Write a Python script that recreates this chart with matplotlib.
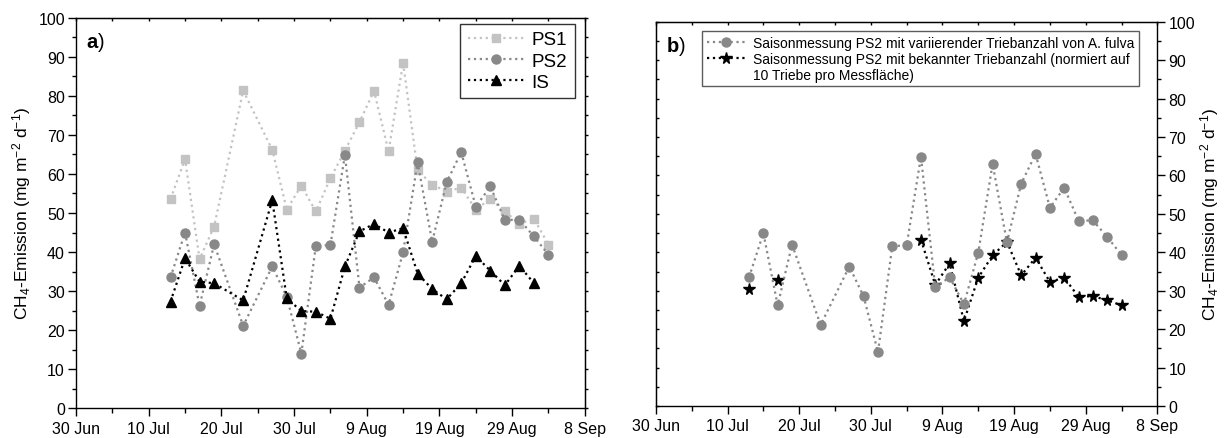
import datetime as dt
import numpy as np
import matplotlib
matplotlib.use("Agg")
import matplotlib.pyplot as plt
import matplotlib.dates as mdates
from matplotlib.lines import Line2D
from matplotlib.ticker import FixedLocator, FuncFormatter, NullFormatter

plt.rcParams['font.family'] = ['Liberation Sans', 'DejaVu Sans']
plt.rcParams['mathtext.fontset'] = 'custom'
plt.rcParams['mathtext.rm'] = 'Liberation Sans'
plt.rcParams['mathtext.it'] = 'Liberation Sans:italic'
plt.rcParams['mathtext.bf'] = 'Liberation Sans:bold'

YEAR = 2010

# measurement days (PS1 / PS2)
dates = ["07-13", "07-15", "07-17", "07-19", "07-23", "07-27", "07-29", "07-31",
         "08-02", "08-04", "08-06", "08-08", "08-10", "08-12", "08-14", "08-16",
         "08-18", "08-20", "08-22", "08-24", "08-26", "08-28", "08-30", "09-01", "09-03"]

ps1 = [53.6, 63.8, 38.2, 46.5, 81.4, 66.2, 50.9, 57.0,
       50.4, 58.9, 66.0, 73.3, 81.3, 65.8, 88.5, 60.9,
       57.3, 55.5, 56.5, 50.9, 53.6, 50.4, 47.3, 48.5, 41.9]

ps2 = [33.5, 45.0, 26.2, 42.0, 21.1, 36.3, 28.5, 14.0,
       41.6, 41.8, 64.9, 30.9, 33.5, 26.5, 39.9, 63.0,
       42.6, 57.9, 65.6, 51.6, 56.8, 48.2, 48.3, 44.0, 39.3]

# IS has no value on the last day
is_vals = [27.3, 38.4, 32.4, 32.0, 27.6, 53.3, 28.1, 24.9,
           24.7, 22.9, 36.3, 45.3, 47.2, 45.0, 46.1, 34.5,
           30.5, 27.9, 32.0, 39.0, 35.2, 31.5, 36.5, 32.0]

# PS2 normalised to 10 shoots (only days with known shoot count)
ps2_norm = [30.4, np.nan, 32.7, np.nan, np.nan, np.nan, np.nan, np.nan,
            np.nan, np.nan, 43.3, 31.5, 37.1, 22.1, 33.4, 39.2,
            42.7, 34.0, 38.6, 32.3, 33.4, 28.4, 28.6, 27.5, 26.2]

x = [dt.datetime.strptime(f"{YEAR}-{d}", "%Y-%m-%d") for d in dates]

start = dt.datetime(YEAR, 6, 30)
end = dt.datetime(YEAR, 9, 8)
major = [mdates.date2num(start + dt.timedelta(days=10 * i)) for i in range(8)]
minor = [m + 5 for m in major[:-1]]
ymajor = np.arange(0, 101, 10)
yminor = np.arange(5, 100, 10)

YLABEL = r'CH$_4$-Emission (mg m$^{-2}$ d$^{-1}$)'
LIGHT = '#c3c3c3'
MID = '#888888'
TICKSIZE = 11.5


def date_fmt(v, pos):
    d = mdates.num2date(v)
    return f"{d.day} {d.strftime('%b')}"


def style_axes(ax, label_side):
    ax.set_xlim(start, end)
    ax.set_ylim(0, 100)
    ax.xaxis.set_major_locator(FixedLocator(major))
    ax.xaxis.set_minor_locator(FixedLocator(minor))
    ax.xaxis.set_major_formatter(FuncFormatter(date_fmt))
    ax.yaxis.set_major_locator(FixedLocator(ymajor))
    ax.yaxis.set_minor_locator(FixedLocator(yminor))
    for s in ax.spines.values():
        s.set_linewidth(1.0)
    ax.tick_params(axis='x', which='major', direction='out', length=6, width=1,
                   labelsize=TICKSIZE, pad=3)
    ax.tick_params(axis='x', which='minor', direction='out', length=3.5, width=1)
    ax.tick_params(axis='y', which='major', direction='out', length=6, width=1,
                   labelsize=TICKSIZE, pad=2)
    ax.tick_params(axis='y', which='minor', direction='out', length=3, width=1)

    # short mirror ticks on the opposite spines
    top = ax.secondary_xaxis('top')
    top.xaxis.set_major_locator(FixedLocator(major))
    top.xaxis.set_minor_locator(FixedLocator(minor))
    top.xaxis.set_major_formatter(NullFormatter())
    top.tick_params(which='both', direction='in', length=2.5, width=1)

    other = 'right' if label_side == 'left' else 'left'
    if label_side == 'right':
        ax.yaxis.tick_right()
        ax.yaxis.set_label_position('right')
    mirror = ax.secondary_yaxis(other)
    mirror.yaxis.set_major_locator(FixedLocator(ymajor))
    mirror.yaxis.set_minor_locator(FixedLocator(yminor))
    mirror.yaxis.set_major_formatter(NullFormatter())
    mirror.tick_params(which='both', direction='out' if label_side == 'left' else 'in',
                       length=2.5, width=1)
    ax.set_ylabel(YLABEL, fontsize=12.5)


fig = plt.figure(figsize=(12.26, 4.39), dpi=100)
ax1 = fig.add_axes([0.062, 0.068, 0.415, 0.889])
ax2 = fig.add_axes([0.535, 0.073, 0.409, 0.875])

line_kw = dict(linestyle=':', linewidth=1.6)

# panel a
l1, = ax1.plot(x, ps1, color=LIGHT, marker='s', markersize=6, label='PS1', **line_kw)
l2, = ax1.plot(x, ps2, color=MID, marker='o', markersize=6.5, label='PS2', **line_kw)
l3, = ax1.plot(x[:len(is_vals)], is_vals, color='black', marker='^', markersize=7,
               label='IS', **line_kw)
style_axes(ax1, 'left')
ax1.yaxis.labelpad = 4
ax1.text(0.02, 0.968, r'$\mathbf{a}$)', transform=ax1.transAxes, fontsize=14.5,
         va='top', ha='left')
leg1 = ax1.legend(handles=[l1, l2, l3], loc='upper right', bbox_to_anchor=(0.98, 0.985),
                  borderaxespad=0, fontsize=13.5, frameon=True, fancybox=False,
                  edgecolor='black', handlelength=3.0, labelspacing=0.22,
                  handletextpad=0.4, borderpad=0.4)
leg1.get_frame().set_linewidth(1.0)

# panel b
s1, = ax2.plot(x, ps2_norm, color='black', marker='*', markersize=8.5,
               label='Saisonmessung PS2 mit bekannter Triebanzahl (normiert auf', **line_kw)
s2, = ax2.plot(x, ps2, color=MID, marker='o', markersize=6.5,
               label='Saisonmessung PS2 mit variierender Triebanzahl von A. fulva', **line_kw)
style_axes(ax2, 'right')
ax2.yaxis.labelpad = 2
ax2.text(0.02, 0.968, r'$\mathbf{b}$)', transform=ax2.transAxes, fontsize=14.5,
         va='top', ha='left')
blank = Line2D([], [], linestyle='none', marker='none', label='10 Triebe pro Messfläche)')
leg2 = ax2.legend(handles=[s2, s1, blank], loc='upper left', bbox_to_anchor=(0.092, 0.975),
                  borderaxespad=0, fontsize=10, frameon=True, fancybox=False,
                  edgecolor='#333333', handlelength=2.8, labelspacing=0.12,
                  handletextpad=0.5, borderpad=0.35)
leg2.get_frame().set_linewidth(1.0)

fig.savefig('out.png', dpi=100)
